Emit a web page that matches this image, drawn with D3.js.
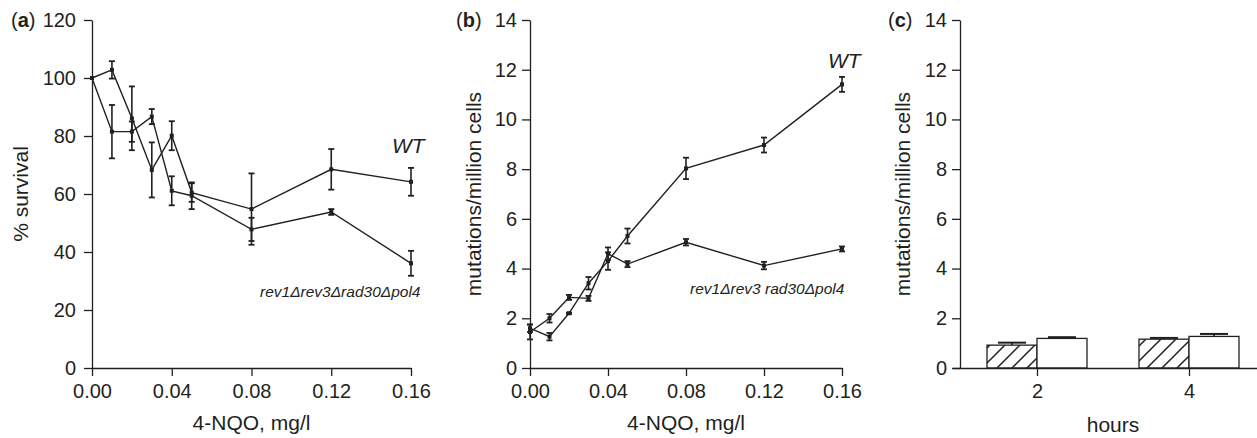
<!DOCTYPE html>
<html>
<head>
<meta charset="utf-8">
<script src="https://cdn.jsdelivr.net/npm/d3@7"></script>
<style>
  html, body { margin: 0; padding: 0; background: #fff; }
  svg { display: block; }
  text { font-family: "Liberation Sans", Arial, Helvetica, sans-serif; fill: #231f20; }
</style>
</head>
<body>
<svg id="chart" width="1257" height="438"></svg>
<script>
// ---------- data ----------
const doses = [0, 0.01, 0.02, 0.03, 0.04, 0.05, 0.08, 0.12, 0.16];
const doseTicks = [0, 0.04, 0.08, 0.12, 0.16];

// panel (a): % survival
const survivalWT = [100, 102.8, 86.1, 68.3, 80.1, 60.5, 54.8, 68.5, 64.2];
const survivalWTErr = [0, 3, 11, 9.5, 5, 3.2, 12.3, 7, 4.8];
const survivalMut = [100, 81.5, 81.5, 86.7, 61.1, 59.4, 47.8, 53.8, 36.1];
const survivalMutErr = [0, 9.2, 3.5, 2.6, 5, 4.6, 4, 1, 4.3];
const survivalTicks = [0, 20, 40, 60, 80, 100, 120];

// panel (b): mutations/million cells
const mutationsWT = [1.6, 1.26, 2.2, 3.41, 4.3, 5.31, 8.03, 8.97, 11.41];
const mutationsWTErr = [0.15, 0.15, 0.03, 0.25, 0.35, 0.3, 0.43, 0.3, 0.3];
const mutationsMut = [1.45, 2.0, 2.84, 2.8, 4.6, 4.18, 5.06, 4.12, 4.79];
const mutationsMutErr = [0.3, 0.17, 0.1, 0.1, 0.25, 0.12, 0.13, 0.15, 0.1];
const mutationTicks = [0, 2, 4, 6, 8, 10, 12, 14];

// panel (c): bars
const hours = ["2", "4"];
const barGroups = ["hatched", "open"];
const hatchedValues = [0.92, 1.16];
const hatchedErr = [0.1, 0.05];
const openValues = [1.19, 1.27];
const openErr = [0.05, 0.1];

// ---------- drawing ----------
const svg = d3.select("#chart");
const INK = "#231f20";
const TICK_FONT = "20px";
const TITLE_FONT = "21px";

// hatch pattern
const defs = svg.append("defs");
const pat = defs.append("pattern")
  .attr("id", "hatch").attr("patternUnits", "userSpaceOnUse")
  .attr("width", 15).attr("height", 15);
pat.append("rect").attr("width", 15).attr("height", 15).attr("fill", "#fff");
pat.append("path")
  .attr("d", "M0,15 L15,0 M-4,4 L4,-4 M11,19 L19,11")
  .attr("stroke", INK).attr("stroke-width", 1.5);

function styleAxis(g) {
  g.select(".domain").attr("stroke", INK).attr("stroke-width", 1.3);
  g.selectAll(".tick line").attr("stroke", INK).attr("stroke-width", 1.3);
  g.selectAll(".tick text").attr("fill", INK).style("font-size", TICK_FONT)
    .style("font-family", '"Liberation Sans", Arial, sans-serif');
}

function panelLabel(x, y, letter) {
  const t = svg.append("text").attr("x", x).attr("y", y).style("font-size", TICK_FONT);
  t.append("tspan").text("(");
  t.append("tspan").style("font-weight", "bold").text(letter);
  t.append("tspan").text(")");
}

function linePanel(cfg) {
  const x = d3.scaleLinear().domain([0, 0.16]).range(cfg.xr);
  const y = d3.scaleLinear().domain(cfg.yd).range([368, 20]);

  const gx = svg.append("g").attr("transform", "translate(0,368)")
    .call(d3.axisBottom(x).tickValues(doseTicks).tickFormat(d3.format(".2f"))
      .tickSize(8).tickSizeOuter(0).tickPadding(8));
  styleAxis(gx);
  const gy = svg.append("g").attr("transform", `translate(${cfg.xr[0]},0)`)
    .call(d3.axisLeft(y).tickValues(cfg.yTicks).tickSize(8).tickSizeOuter(0).tickPadding(cfg.pad));
  styleAxis(gy);

  const line = d3.line().x((d, i) => x(doses[i])).y(d => y(d));
  [[cfg.s1, cfg.e1], [cfg.s2, cfg.e2]].forEach(([vals, errs]) => {
    svg.append("path").datum(vals).attr("d", line)
      .attr("fill", "none").attr("stroke", INK).attr("stroke-width", 1.4);
    const g = svg.append("g");
    vals.forEach((v, i) => {
      const cx = x(doses[i]);
      const e = errs[i];
      if (e > 0) {
        g.append("line").attr("x1", cx).attr("x2", cx)
          .attr("y1", y(v - e)).attr("y2", y(v + e))
          .attr("stroke", INK).attr("stroke-width", 1.6);
        [v - e, v + e].forEach(b => g.append("line")
          .attr("x1", cx - 3).attr("x2", cx + 3).attr("y1", y(b)).attr("y2", y(b))
          .attr("stroke", INK).attr("stroke-width", 1.8));
      }
      g.append("rect").attr("x", cx - 2).attr("y", y(v) - 2)
        .attr("width", 4).attr("height", 4).attr("fill", INK);
    });
  });

  // axis titles
  svg.append("text").attr("x", (cfg.xr[0] + cfg.xr[1]) / 2).attr("y", 430)
    .attr("text-anchor", "middle").style("font-size", TITLE_FONT).text("4-NQO, mg/l");
  svg.append("text").attr("transform", `translate(${cfg.ytx},194) rotate(-90)`)
    .attr("text-anchor", "middle").style("font-size", TITLE_FONT).text(cfg.yTitle);

  // annotations
  svg.append("text").attr("x", cfg.wt[0]).attr("y", cfg.wt[1])
    .style("font-size", "21px").style("font-style", "italic").text("WT");
  svg.append("text").attr("x", cfg.mut[0]).attr("y", cfg.mut[1])
    .style("font-size", "15.5px").style("font-style", "italic").text(cfg.mutText);

  panelLabel(cfg.lab[0], 27, cfg.letter);
}

linePanel({
  xr: [92, 411], yd: [0, 120], yTicks: survivalTicks, pad: 8,
  s1: survivalWT, e1: survivalWTErr, s2: survivalMut, e2: survivalMutErr,
  ytx: 28, yTitle: "% survival",
  wt: [392, 153], mut: [260, 297], mutText: "rev1\u0394rev3\u0394rad30\u0394pol4",
  lab: [11, 0], letter: "a"
});

linePanel({
  xr: [530, 842], yd: [0, 14], yTicks: mutationTicks, pad: 5,
  s1: mutationsWT, e1: mutationsWTErr, s2: mutationsMut, e2: mutationsMutErr,
  ytx: 481, yTitle: "mutations/million cells",
  wt: [828, 68], mut: [690, 294], mutText: "rev1\u0394rev3 rad30\u0394pol4",
  lab: [456, 0], letter: "b"
});

// panel (c)
(function () {
  const x = d3.scalePoint().domain(hours).range([961, 1265]).padding(0.5);
  const xs = d3.scaleBand().domain(barGroups).range([-50, 50]);
  const y = d3.scaleLinear().domain([0, 14]).range([368, 20]);

  const gy = svg.append("g").attr("transform", "translate(960,0)")
    .call(d3.axisLeft(y).tickValues(mutationTicks).tickSize(8).tickSizeOuter(0).tickPadding(5));
  styleAxis(gy);

  const series = [
    { key: "hatched", vals: hatchedValues, errs: hatchedErr, fill: "url(#hatch)" },
    { key: "open", vals: openValues, errs: openErr, fill: "#fff" }
  ];
  series.forEach(s => {
    s.vals.forEach((v, i) => {
      const bx = x(hours[i]) + xs(s.key);
      const w = xs.bandwidth();
      svg.append("rect").attr("x", bx).attr("y", y(v))
        .attr("width", w).attr("height", y(0) - y(v))
        .attr("fill", s.fill).attr("stroke", INK).attr("stroke-width", 1.3);
      const cx = bx + w / 2;
      svg.append("line").attr("x1", cx).attr("x2", cx)
        .attr("y1", y(v)).attr("y2", y(v + s.errs[i]))
        .attr("stroke", INK).attr("stroke-width", 1.6);
      svg.append("line").attr("x1", cx - 14).attr("x2", cx + 14)
        .attr("y1", y(v + s.errs[i])).attr("y2", y(v + s.errs[i]))
        .attr("stroke", INK).attr("stroke-width", 2);
    });
  });

  const gx = svg.append("g").attr("transform", "translate(0,368)")
    .call(d3.axisBottom(x).tickSize(8).tickSizeOuter(0).tickPadding(8));
  styleAxis(gx);
  gx.select(".domain").attr("d", "M953,0.5H1257");

  svg.append("text").attr("x", 1113).attr("y", 432)
    .attr("text-anchor", "middle").style("font-size", TITLE_FONT).text("hours");
  svg.append("text").attr("transform", "translate(910,194) rotate(-90)")
    .attr("text-anchor", "middle").style("font-size", TITLE_FONT).text("mutations/million cells");
  panelLabel(888, 27, "c");
})();
</script>
</body>
</html>
